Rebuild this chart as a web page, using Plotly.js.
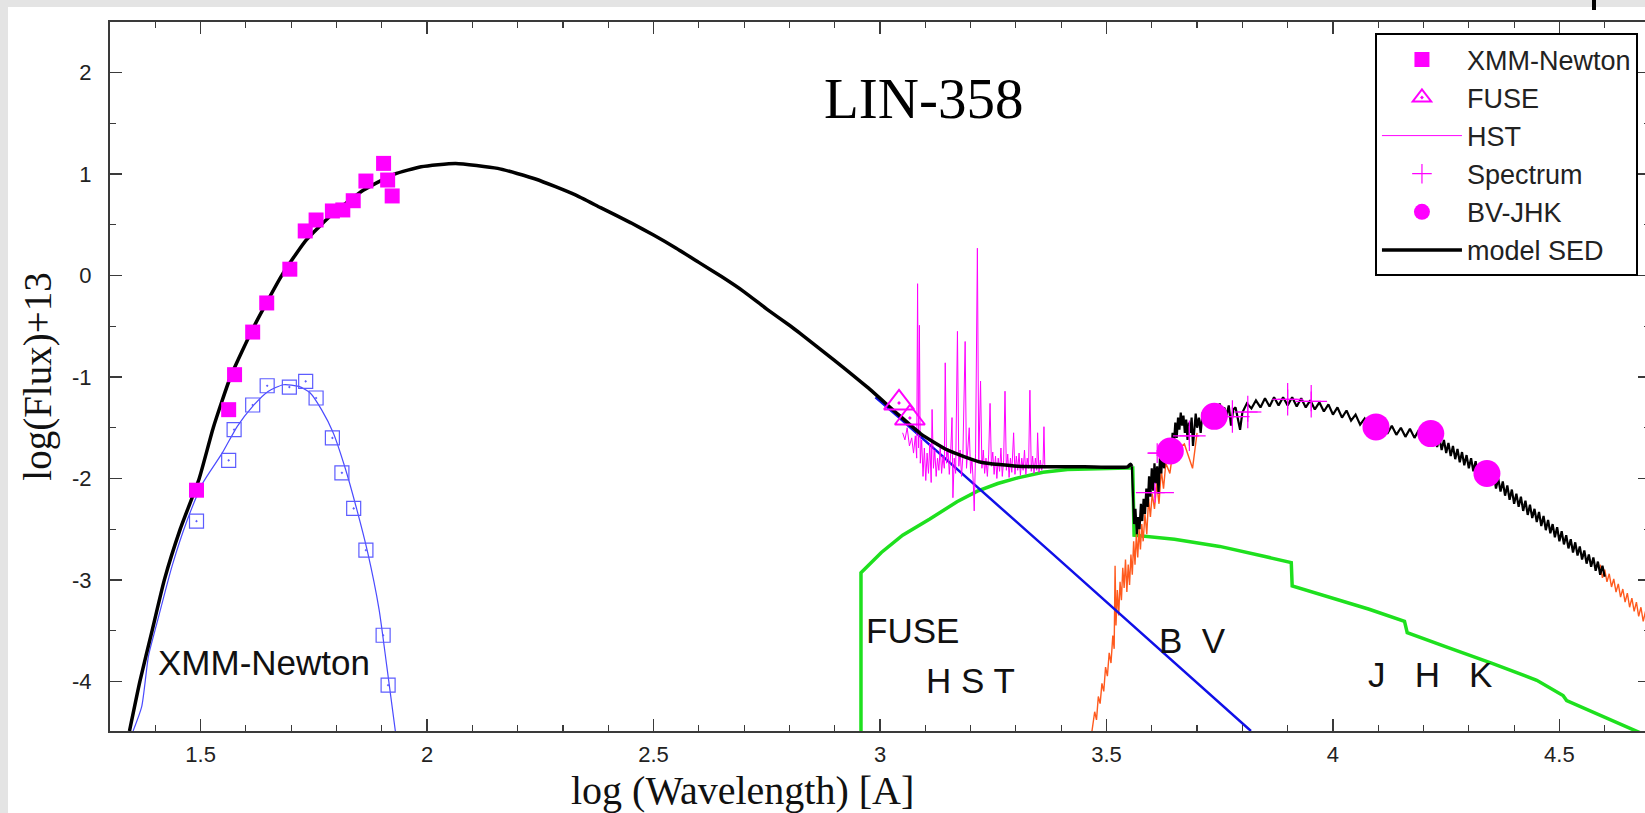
<!DOCTYPE html>
<html><head><meta charset="utf-8">
<script src="https://cdn.plot.ly/plotly-3.0.1.min.js"></script>
<style>
html,body{margin:0;padding:0;background:#e4e4e4;overflow:hidden;width:1645px;height:813px;}
#plot{position:absolute;left:8px;top:7px;width:1642px;height:806px;}
#mark{position:absolute;left:1592px;top:0;width:4px;height:10px;background:#000;}
</style></head><body>
<div id="plot"></div><div id="mark"></div>
<script>
// ---------- data ----------
const xTickVals = [1.5, 2, 2.5, 3, 3.5, 4, 4.5];
const xTickText = ['1.5', '2', '2.5', '3', '3.5', '4', '4.5'];
const yTickVals = [-4, -3, -2, -1, 0, 1, 2];
const yTickText = ['-4', '-3', '-2', '-1', '0', '1', '2'];

// XMM-Newton (observed, filled squares)
const xmmX = [1.491, 1.562, 1.575, 1.615, 1.646, 1.697, 1.731, 1.755, 1.791, 1.814, 1.837, 1.865, 1.904, 1.913, 1.923];
const xmmY = [-2.116, -1.322, -0.977, -0.557, -0.27, 0.063, 0.44, 0.548, 0.637, 0.647, 0.738, 0.932, 1.106, 0.942, 0.785];

// XMM-Newton (open blue squares)
const xmmOpenX = [1.491, 1.562, 1.574, 1.615, 1.647, 1.696, 1.732, 1.755, 1.791, 1.812, 1.838, 1.865, 1.903, 1.914];
const xmmOpenY = [-2.421, -1.821, -1.519, -1.276, -1.086, -1.099, -1.043, -1.207, -1.601, -1.945, -2.296, -2.707, -3.546, -4.038];

// thin blue model through the open squares
const softX = [1.351, 1.370, 1.385, 1.404, 1.437, 1.471, 1.505, 1.548, 1.581, 1.615, 1.649, 1.683, 1.717, 1.742, 1.767, 1.793, 1.818, 1.843, 1.869, 1.894, 1.911, 1.930];
const softY = [-4.49, -4.25, -3.75, -3.42, -2.864, -2.405, -2.044, -1.748, -1.486, -1.289, -1.142, -1.076, -1.093, -1.158, -1.322, -1.551, -1.880, -2.274, -2.732, -3.290, -3.848, -4.49];

// hot component (blue straight part)
const hotX = [2.99, 3.039, 3.370, 3.819];
const hotY = [-1.20, -1.388, -2.70, -4.49];

// green component
const greenX = [2.958, 2.958, 3.003, 3.05, 3.11, 3.17, 3.215, 3.26, 3.304, 3.36, 3.414, 3.48, 3.547, 3.558, 3.561, 3.65, 3.75, 3.85, 3.908, 3.91, 4.00, 4.08, 4.158, 4.164, 4.25, 4.35, 4.45, 4.508, 4.516, 4.60, 4.666, 4.70];
const greenY = [-4.50, -2.93, -2.73, -2.56, -2.40, -2.23, -2.126, -2.05, -1.994, -1.94, -1.912, -1.90, -1.896, -1.896, -2.56, -2.60, -2.67, -2.77, -2.83, -3.06, -3.18, -3.29, -3.41, -3.52, -3.66, -3.82, -3.99, -4.14, -4.19, -4.35, -4.48, -4.55];

// orange (cool star spectrum), two visible stretches
const coolX = [3.468, 3.474, 3.478, 3.482, 3.486, 3.490, 3.494, 3.498, 3.502, 3.506, 3.510, 3.514, 3.517, 3.519, 3.521, 3.524, 3.527, 3.530, 3.533, 3.536, 3.539, 3.542, 3.545, 3.548, 3.551, 3.554, 3.557, 3.560, 3.563, 3.566, 3.569, 3.572, 3.575, 3.578, 3.581, 3.585, 3.589, 3.593, 3.597, 3.601, 3.606, 3.611, 3.616, 3.621, 3.626, 3.631, 3.640, 3.650, 3.660, 3.672, 3.690, 3.700, null,
  4.590, 4.595, 4.600, 4.605, 4.610, 4.615, 4.620, 4.625, 4.630, 4.635, 4.640, 4.645, 4.650, 4.655, 4.660, 4.665, 4.670, 4.675, 4.680, 4.685, 4.690, 4.695];
const coolY = [-4.49, -4.30, -4.38, -4.15, -4.22, -4.02, -4.10, -3.86, -3.95, -3.72, -3.82, -3.55, -3.68, -2.86, -3.45, -3.10, -3.35, -3.02, -3.20, -2.88, -3.08, -2.80, -3.12, -2.85, -3.05, -2.75, -2.95, -2.62, -2.85, -2.55, -2.78, -2.50, -2.70, -2.45, -2.62, -2.35, -2.55, -2.20, -2.38, -2.15, -2.30, -2.05, -2.25, -1.92, -2.10, -1.85, -1.95, -1.62, -1.70, -1.66, -1.90, -1.55, null,
  -2.85, -2.98, -2.90, -3.02, -2.94, -3.07, -2.99, -3.12, -3.04, -3.17, -3.09, -3.22, -3.13, -3.27, -3.18, -3.31, -3.22, -3.36, -3.27, -3.41, -3.31, -3.45];

// HST spectrum (thin magenta)
const hstX = [3.050, 3.055, 3.060, 3.065, 3.070, 3.074, 3.078, 3.081, 3.083, 3.085, 3.087, 3.089, 3.092, 3.095, 3.098, 3.101, 3.104, 3.107, 3.110, 3.113, 3.115, 3.118, 3.121, 3.124, 3.127, 3.130, 3.133, 3.136, 3.139, 3.142, 3.144, 3.147, 3.150, 3.153, 3.156, 3.159, 3.161, 3.164, 3.167, 3.171, 3.174, 3.177, 3.180, 3.183, 3.188, 3.191, 3.194, 3.197, 3.200, 3.203, 3.206, 3.208, 3.211, 3.215, 3.218, 3.222, 3.225, 3.228, 3.231, 3.234, 3.237, 3.240, 3.243, 3.246, 3.249, 3.252, 3.255, 3.258, 3.261, 3.264, 3.267, 3.270, 3.273, 3.276, 3.279, 3.282, 3.285, 3.288, 3.291, 3.295, 3.298, 3.301, 3.304, 3.307, 3.310, 3.313, 3.316, 3.319, 3.322, 3.325, 3.328, 3.331, 3.334, 3.337, 3.340, 3.343, 3.346, 3.348, 3.351, 3.354, 3.357, 3.360, 3.362, 3.364];
const hstY = [-1.55, -1.62, -1.50, -1.68, -1.60, -1.75, -1.58, -1.80, -0.08, -1.70, -0.49, -1.85, -1.62, -1.98, -1.70, -2.02, -1.75, -1.95, -1.66, -2.04, -1.32, -1.90, -1.72, -1.98, -1.80, -1.92, -1.68, -1.95, -1.78, -1.90, -0.86, -1.85, -1.70, -1.96, -1.75, -1.40, -2.19, -1.80, -1.95, -0.55, -1.88, -1.72, -1.98, -1.78, -0.65, -1.90, -1.70, -1.50, -1.95, -1.80, -2.05, -2.32, -1.75, 0.27, -1.85, -1.04, -1.90, -1.72, -1.95, -1.80, -1.98, -1.76, -1.26, -1.88, -1.74, -1.96, -1.78, -2.00, -1.80, -1.93, -1.70, -1.98, -1.82, -1.14, -1.92, -1.76, -1.99, -1.80, -1.94, -1.55, -1.96, -1.78, -1.92, -1.75, -1.97, -1.80, -1.92, -1.72, -1.96, -1.80, -1.90, -1.13, -1.93, -1.78, -1.95, -1.80, -1.92, -1.55, -1.94, -1.82, -1.92, -1.85, -1.49, -1.90];

// FUSE points (open triangles)
const fuseX = [3.042, 3.066];
const fuseY = [-1.256, -1.404];

// optical spectrum points with band widths
const specX = [3.607, 3.612, 3.683, 3.778, 3.812, 3.900, 3.952];
const specXerr = [0.042, 0.02, 0.036, 0.038, 0.03, 0.034, 0.035];
const specY = [-2.14, -1.75, -1.58, -1.39, -1.345, -1.22, -1.24];
const specYerr = [0.05, 0.03, 0.15, 0.16, 0.16, 0.16, 0.16];

// BV-JHK photometry
const bvX = [3.641, 3.738, 4.095, 4.216, 4.340];
const bvY = [-1.73, -1.388, -1.492, -1.558, -1.952];

// model SED (smooth part)
const sedX = [1.343, 1.366, 1.393, 1.42, 1.455, 1.497, 1.528, 1.566, 1.618, 1.679, 1.733, 1.793, 1.86, 1.928, 1.987, 2.063, 2.156, 2.241, 2.325, 2.383, 2.45, 2.5, 2.55, 2.6, 2.65, 2.7, 2.75, 2.8, 2.825, 2.898, 2.972, 3.039, 3.09, 3.149, 3.223, 3.304, 3.38, 3.451, 3.547, 3.553, 3.556];
const sedY = [-4.49, -4.0, -3.5, -3.0, -2.5, -2.0, -1.5, -1.0, -0.5, 0.0, 0.35, 0.614, 0.843, 1.0, 1.073, 1.106, 1.057, 0.95, 0.80, 0.67, 0.52, 0.40, 0.27, 0.13, -0.01, -0.16, -0.33, -0.49, -0.575, -0.83, -1.10, -1.365, -1.56, -1.72, -1.84, -1.88, -1.885, -1.885, -1.885, -1.86, -1.88];

// model SED (noisy optical/IR part)
const optX = [3.556, 3.558, 3.561, 3.564, 3.567, 3.570, 3.573, 3.576, 3.579, 3.582, 3.585, 3.588, 3.591, 3.594, 3.597, 3.600, 3.603, 3.606, 3.609, 3.612, 3.615, 3.618, 3.621, 3.624, 3.627, 3.630, 3.634, 3.637, 3.640, 3.643, 3.646, 3.649, 3.652, 3.655, 3.658, 3.661, 3.664, 3.667, 3.670, 3.673, 3.676, 3.679, 3.682, 3.685, 3.688, 3.691, 3.694, 3.697, 3.700, 3.704, 3.708, 3.712, 3.716, 3.720, 3.725, 3.730, 3.735, 3.740, 3.745, 3.750, 3.755, 3.760, 3.765, 3.770, 3.775, 3.780, 3.785, 3.790, 3.795,
  3.80, 3.81, 3.82, 3.83, 3.84, 3.85, 3.86, 3.87, 3.88, 3.89, 3.90, 3.91, 3.92, 3.93, 3.94, 3.95, 3.96, 3.97, 3.98, 3.99, 4.00, 4.01, 4.02, 4.03, 4.04, 4.05, 4.06, 4.07, 4.08, 4.09, 4.10, 4.11, 4.12, 4.13, 4.14, 4.15, 4.16, 4.17, 4.18, 4.19, 4.20, 4.21, 4.22,
  4.225, 4.230, 4.235, 4.240, 4.245, 4.250, 4.255, 4.260, 4.265, 4.270, 4.275, 4.280, 4.285, 4.290, 4.295, 4.300, 4.305, 4.310, 4.315, 4.320, 4.325, 4.330, 4.335, 4.340, 4.345, 4.350, 4.355, 4.360, 4.365, 4.370, 4.375, 4.380, 4.385, 4.390, 4.395, 4.400, 4.405, 4.410, 4.415, 4.420, 4.425, 4.430, 4.435, 4.440, 4.445, 4.450, 4.455, 4.460, 4.465, 4.470, 4.475, 4.480, 4.485, 4.490, 4.495, 4.500, 4.505, 4.510, 4.515, 4.520, 4.525, 4.530, 4.535, 4.540, 4.545, 4.550, 4.555, 4.560, 4.565, 4.570, 4.575, 4.580, 4.585, 4.590, 4.595, 4.600];
const optY = [-1.88, -2.20, -2.45, -2.30, -2.55, -2.38, -2.50, -2.25, -2.42, -2.20, -2.35, -2.10, -2.28, -1.98, -2.18, -1.90, -2.12, -1.85, -2.05, -1.88, -2.15, -1.80, -1.95, -1.72, -1.90, -1.75, -1.62, -1.85, -1.70, -1.78, -1.55, -1.65, -1.45, -1.60, -1.40, -1.52, -1.35, -1.48, -1.38, -1.55, -1.42, -1.62, -1.45, -1.55, -1.40, -1.68, -1.48, -1.36, -1.50, -1.40, -1.55, -1.35, -1.45, -1.32, -1.40, -1.28, -1.38, -1.30, -1.42, -1.26, -1.36, -1.30, -1.38, -1.28, -1.48, -1.32, -1.30, -1.40, -1.52,
  -1.35, -1.26, -1.31, -1.23, -1.30, -1.21, -1.29, -1.20, -1.28, -1.20, -1.28, -1.20, -1.29, -1.21, -1.30, -1.23, -1.32, -1.25, -1.34, -1.27, -1.37, -1.30, -1.40, -1.33, -1.43, -1.37, -1.47, -1.41, -1.50, -1.44, -1.53, -1.46, -1.56, -1.48, -1.57, -1.50, -1.59, -1.51, -1.60, -1.52, -1.61, -1.54, -1.64,
  -1.56, -1.69, -1.60, -1.72, -1.62, -1.75, -1.65, -1.78, -1.68, -1.81, -1.71, -1.84, -1.74, -1.87, -1.77, -1.90, -1.80, -1.93, -1.83, -1.96, -1.86, -1.99, -1.89, -2.02, -1.92, -2.06, -1.96, -2.10, -2.00, -2.13, -2.03, -2.17, -2.07, -2.21, -2.11, -2.25, -2.15, -2.28, -2.18, -2.32, -2.22, -2.36, -2.26, -2.39, -2.30, -2.43, -2.33, -2.47, -2.37, -2.51, -2.41, -2.54, -2.45, -2.58, -2.48, -2.62, -2.52, -2.65, -2.56, -2.69, -2.60, -2.73, -2.63, -2.76, -2.67, -2.80, -2.71, -2.84, -2.75, -2.87, -2.78, -2.91, -2.82, -2.95, -2.86, -2.97];

// ---------- chart ----------
const MAG = '#ff00ff';
const sans = 'Liberation Sans, Arial, sans-serif';
const serif = 'Liberation Serif, Times New Roman, serif';

const traces = [
  {x: greenX, y: greenY, mode: 'lines', line: {color: '#1ee01e', width: 3.5}, showlegend: false, hoverinfo: 'skip'},
  {x: coolX, y: coolY, mode: 'lines', line: {color: '#ff5a1e', width: 1.4}, connectgaps: false, showlegend: false, hoverinfo: 'skip'},
  {x: softX, y: softY, mode: 'lines', line: {color: '#4a4aff', width: 1.2, shape: 'spline', smoothing: 0.6}, showlegend: false},
  {x: xmmOpenX, y: xmmOpenY, mode: 'markers', marker: {symbol: 'square-open-dot', size: 14, color: '#5c5cff', line: {color: '#5c5cff', width: 1.2}}, showlegend: false},
  {x: hotX, y: hotY, mode: 'lines', line: {color: '#1010e8', width: 2.5}, showlegend: false},
  {x: hstX, y: hstY, mode: 'lines', name: 'HST', legendrank: 3, line: {color: MAG, width: 1}},
  {x: optX, y: optY, mode: 'lines', line: {color: '#000', width: 2.2}, showlegend: false},
  {x: sedX, y: sedY, mode: 'lines', name: 'model SED', legendrank: 6, line: {color: '#000', width: 3.5, shape: 'spline', smoothing: 0.5}},
  {x: xmmX, y: xmmY, mode: 'markers', name: 'XMM-Newton', legendrank: 1, marker: {symbol: 'square', size: 15, color: MAG}},
  {x: fuseX, y: fuseY, mode: 'markers', name: 'FUSE', legendrank: 2, marker: {symbol: 'triangle-up-open-dot', size: 26, color: MAG, line: {color: MAG, width: 2}}},
  {x: specX, y: specY, mode: 'markers', name: 'Spectrum', legendrank: 4,
    marker: {symbol: 'cross-thin', size: 14, color: MAG, line: {color: MAG, width: 1.2}},
    error_x: {type: 'data', array: specXerr, visible: true, color: MAG, thickness: 1.2, width: 0},
    error_y: {type: 'data', array: specYerr, visible: true, color: MAG, thickness: 1.2, width: 0}},
  {x: bvX, y: bvY, mode: 'markers', name: 'BV-JHK', legendrank: 5, marker: {symbol: 'circle', size: 27, color: MAG}}
];

const axisCommon = {
  showline: true, linecolor: '#3a3a3a', linewidth: 2, mirror: 'allticks',
  ticks: 'inside', ticklen: 12, tickwidth: 1.5, tickcolor: '#3a3a3a',
  showgrid: false, zeroline: false, tickmode: 'array',
  tickfont: {family: sans, size: 22, color: '#222'}
};

const layout = {
  width: 1642, height: 806,
  margin: {l: 102, r: 0, t: 15, b: 82},
  paper_bgcolor: '#ffffff', plot_bgcolor: '#ffffff',
  showlegend: true,
  xaxis: Object.assign({}, axisCommon, {
    range: [1.3, 4.7], tickvals: xTickVals, ticktext: xTickText, ticklabelstandoff: 3,
    minor: {tickmode: 'linear', tick0: 0, dtick: 0.1, ticks: 'inside', ticklen: 6, tickwidth: 1.2, tickcolor: '#3a3a3a', showgrid: false}
  }),
  yaxis: Object.assign({}, axisCommon, {
    range: [-4.49, 2.5], tickvals: yTickVals, ticktext: yTickText, ticklabelstandoff: 12,
    minor: {tickmode: 'linear', tick0: 0, dtick: 0.5, ticks: 'inside', ticklen: 6, tickwidth: 1.2, tickcolor: '#3a3a3a', showgrid: false},
    title: {text: 'log(Flux)+13', font: {family: serif, size: 39, color: '#111'}, standoff: 8}
  }),
  legend: {
    x: 0.8214, y: 0.984, xanchor: 'left', yanchor: 'top',
    bgcolor: '#ffffff', bordercolor: '#000', borderwidth: 2,
    font: {family: sans, size: 27, color: '#222'}, itemwidth: 80, tracegroupgap: 0
  },
  annotations: [
    {x: 0.4104, y: -0.0494, xref: 'paper', yref: 'paper', xanchor: 'center', yanchor: 'top', text: 'log (Wavelength) [A]', showarrow: false, font: {family: serif, size: 40, color: '#111'}},
    {x: 3.095, y: 1.746, xref: 'x', yref: 'y', text: 'LIN-358', showarrow: false, font: {family: serif, size: 57, color: '#000'}},
    {x: 1.640, y: -3.815, xref: 'x', yref: 'y', text: 'XMM-Newton', showarrow: false, font: {family: sans, size: 35, color: '#111'}},
    {x: 3.071, y: -3.503, xref: 'x', yref: 'y', text: 'FUSE', showarrow: false, font: {family: sans, size: 35, color: '#111'}},
    {x: 3.199, y: -3.996, xref: 'x', yref: 'y', text: 'H S T', showarrow: false, font: {family: sans, size: 35, color: '#111'}},
    {x: 3.689, y: -3.602, xref: 'x', yref: 'y', text: 'B  V', showarrow: false, font: {family: sans, size: 35, color: '#111'}},
    {x: 4.215, y: -3.928, xref: 'x', yref: 'y', text: 'J   H   K', showarrow: false, font: {family: sans, size: 35, color: '#111'}}
  ]
};

Plotly.newPlot('plot', traces, layout, {displayModeBar: false, staticPlot: true});
</script></body></html>
